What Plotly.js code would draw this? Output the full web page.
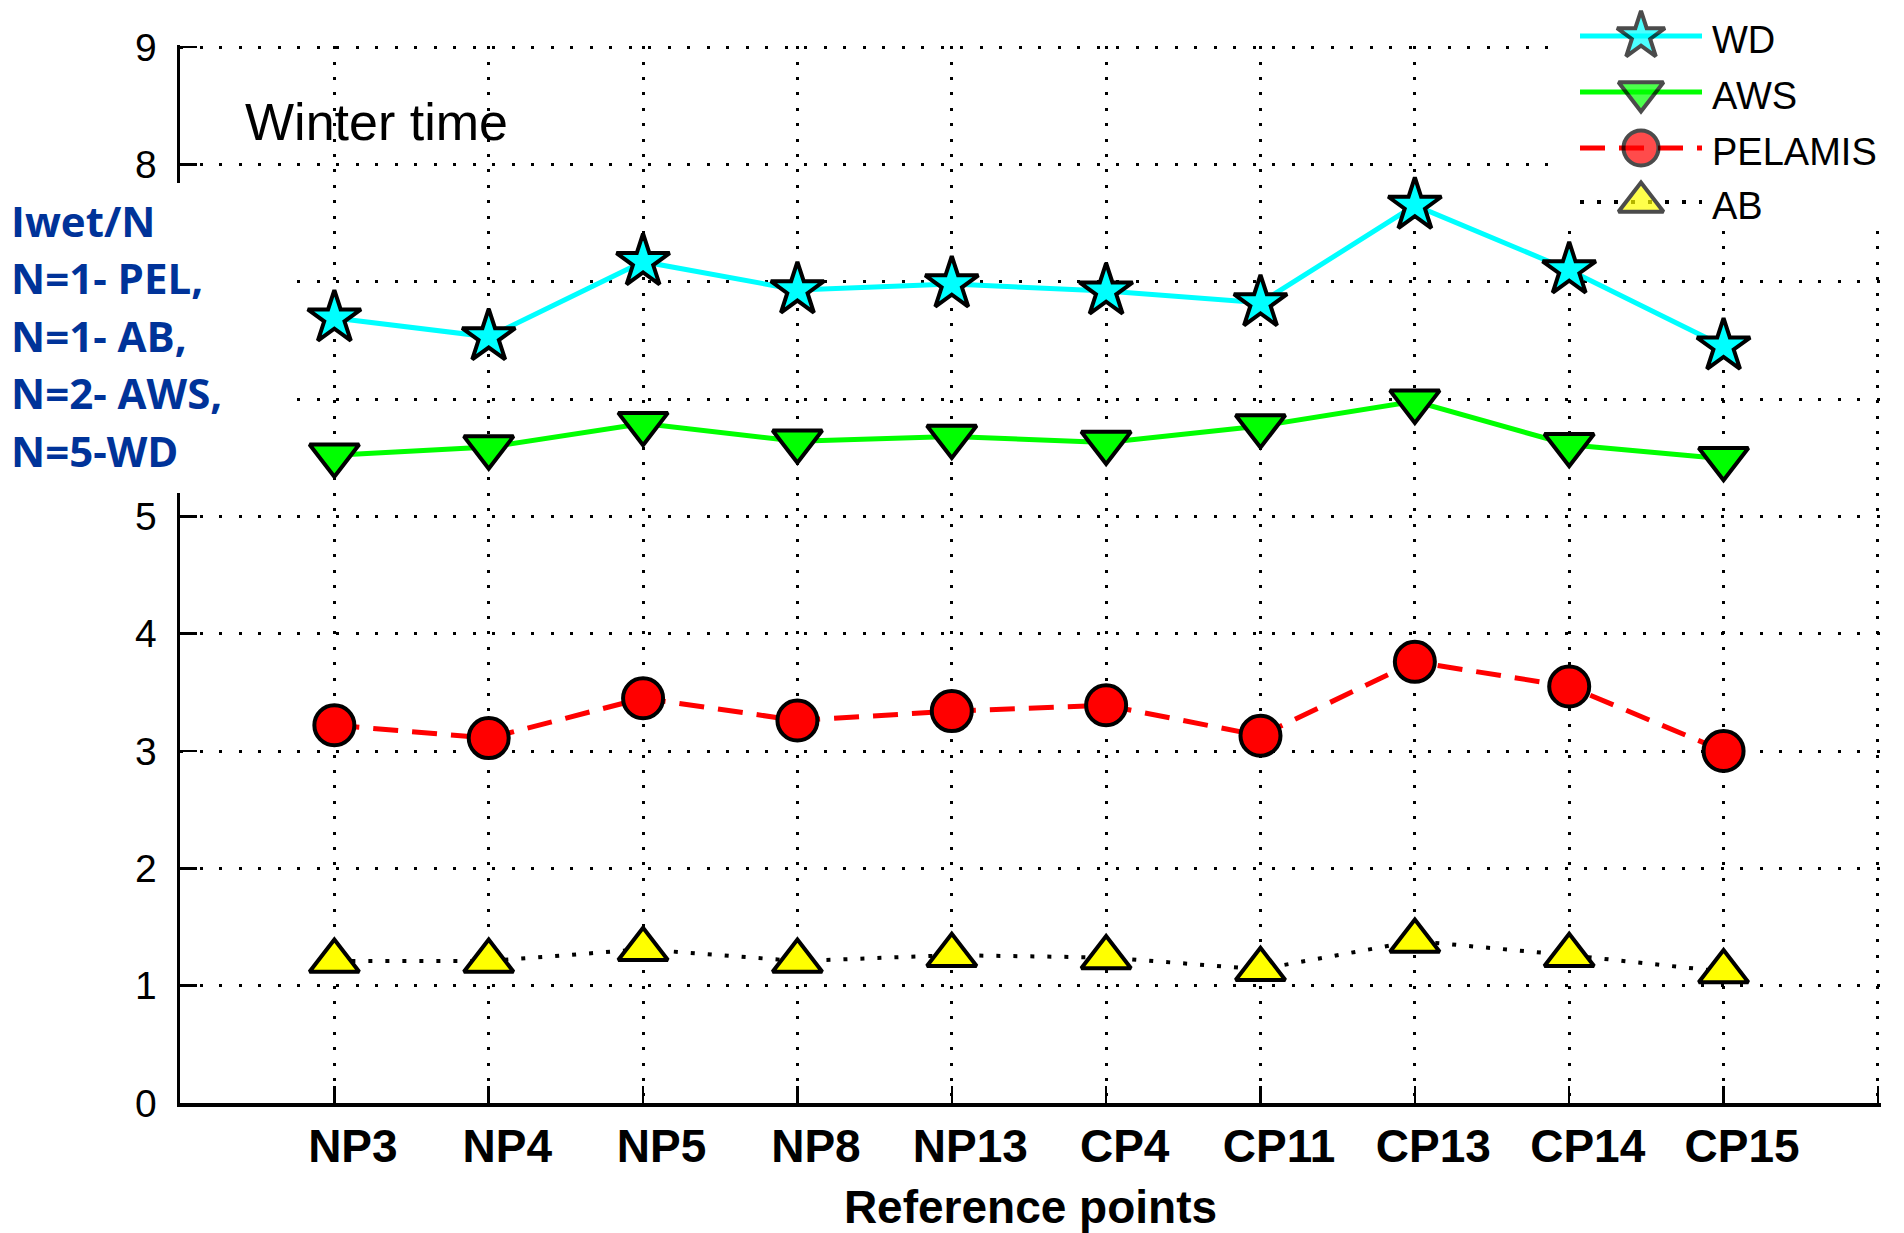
<!DOCTYPE html>
<html>
<head>
<meta charset="utf-8">
<script src="https://cdn.plot.ly/plotly-3.0.1.min.js"></script>
<style>
  html, body { margin: 0; padding: 0; background: #fff; }
  #chart { width: 1904px; height: 1233px; }
</style>
</head>
<body>
<div id="chart"></div>
<script>
// ---- data ----
const categories = ['NP3', 'NP4', 'NP5', 'NP8', 'NP13', 'CP4', 'CP11', 'CP13', 'CP14', 'CP15'];
const xPos = [1, 2, 3, 4, 5, 6, 7, 8, 9, 10];
const wd      = [6.69, 6.53, 7.17, 6.93, 6.98, 6.92, 6.82, 7.65, 7.10, 6.45];
const aws     = [5.52, 5.59, 5.79, 5.64, 5.68, 5.63, 5.77, 5.98, 5.61, 5.49];
const pelamis = [3.22, 3.11, 3.45, 3.26, 3.34, 3.39, 3.13, 3.76, 3.55, 3.00];
const ab      = [1.21, 1.21, 1.31, 1.21, 1.26, 1.24, 1.14, 1.38, 1.26, 1.12];
const seriesNames = ['WD', 'AWS', 'PELAMIS', 'AB'];
const yTickVals = [0, 1, 2, 3, 4, 5, 6, 7, 8, 9];
const yTickText = ['0', '1', '2', '3', '4', '5', '', '', '8', '9'];   // 6 and 7 are hidden behind the note in the original
const xTitle = 'Reference points';
const panelLabel = 'Winter time';
const noteLines = ['Iwet/N', 'N=1- PEL,', 'N=1- AB,', 'N=2- AWS,', 'N=5-WD'];

// ---- geometry ----
const W = 1904, H = 1233;
const mL = 180, mR = 23, mT = 0, mB = 130;
const plotW = W - mL - mR, plotH = H - mT - mB;
const X_MAX = 11.02;                     // grid line at 11 forms the right edge
const Y_TOP = 9;                         // last labelled value
const Y_MAX = Y_TOP * plotH / 1056;      // plot area reaches the top of the page (room for the key)
const unitX = plotW / X_MAX, unitY = plotH / Y_MAX;
const px2paperX = px => (px - mL) / plotW;
const px2paperY = py => (H - mB - py) / plotH;
const px2dataX = px => (px - mL) / unitX;
const px2dataY = py => (H - mB - py) / unitY;

const FONT = 'Liberation Sans, Arial, sans-serif';

// series styles
const styles = [
  { line: '#00FFFF', width: 5, dash: 'solid',     symbol: 'star',          size: 40, fill: '#00FFFF', legSize: 36 },
  { line: '#00FF00', width: 5, dash: 'solid',     symbol: 'triangle-down', size: 43, fill: '#00FF00', legSize: 39 },
  { line: '#FF0000', width: 5, dash: '25px,14px', symbol: 'circle',        size: 40, fill: '#FF0000', legSize: 35 },
  { line: '#000000', width: 4, dash: '4px,13px',  symbol: 'triangle-up',   size: 43, fill: '#FFFF00', legSize: 39 }
];
const seriesData = [wd, aws, pelamis, ab];

const traces = seriesData.map((y, i) => ({
  type: 'scatter', mode: 'lines+markers', name: seriesNames[i], x: xPos, y: y,
  showlegend: false,
  line: { color: styles[i].line, width: styles[i].width, dash: styles[i].dash },
  marker: { symbol: styles[i].symbol, size: styles[i].size, color: styles[i].fill,
            line: { color: '#000', width: 4 } },
  cliponaxis: false
}));

// ---- hand-drawn key (pixel overlay axes) so the keys keep the big markers ----
const legLineX = [1580, 1641, 1702];
const legRowY = [36, 92, 148, 202];
seriesNames.forEach((name, i) => {
  const st = styles[i];
  traces.push({
    type: 'scatter', mode: 'lines+markers', name: name + ' key',
    xaxis: 'x3', yaxis: 'y2', showlegend: false, hoverinfo: 'skip',
    x: legLineX, y: legLineX.map(() => legRowY[i]),
    line: { color: st.line, width: st.width, dash: st.dash },
    marker: { symbol: st.symbol, size: [0, st.legSize, 0], color: st.fill,
              line: { color: '#000', width: [0, 4, 0] } },
    cliponaxis: false
  });
});

const annotations = [
  {
    xref: 'x', yref: 'y', x: 0.41, y: 8.36, xanchor: 'left', yanchor: 'middle',
    text: panelLabel, showarrow: false,
    font: { family: FONT, size: 52, color: '#000' }
  }
];
noteLines.forEach((t, i) => {
  annotations.push({
    xref: 'paper', yref: 'paper',
    x: px2paperX(9), xanchor: 'left',
    y: px2paperY(220 + i * 57.5), yanchor: 'middle',
    text: '<b>' + t + '</b>', showarrow: false,
    font: { family: 'Open Sans, Noto Sans, sans-serif', size: 42, color: '#003399' }
  });
});
seriesNames.forEach((name, i) => {
  annotations.push({
    xref: 'paper', yref: 'paper',
    x: px2paperX(1710), xanchor: 'left',
    y: px2paperY(legRowY[i] + 4), yanchor: 'middle',
    text: name, showarrow: false,
    font: { family: FONT, size: 38, color: '#000' }
  });
});

const layout = {
  width: W, height: H,
  margin: { l: mL, r: mR, t: mT, b: mB, pad: 0 },
  paper_bgcolor: '#fff', plot_bgcolor: '#fff',
  showlegend: false,
  xaxis: {
    range: [0, X_MAX], autorange: false,
    tickmode: 'array',
    tickvals: xPos.concat([11]),
    showticklabels: false,
    ticks: 'inside', ticklen: 17, tickwidth: 2.5, tickcolor: '#000',
    showline: true, linecolor: '#000', linewidth: 3.5, mirror: false,
    showgrid: true, gridcolor: '#000', gridwidth: 3, griddash: '3px,12.4px',
    zeroline: false,
    title: { text: '<b>' + xTitle + '</b>', standoff: 92,
      font: { family: FONT, size: 46, color: '#000' } }
  },
  // pixel-space overlay axis: carries the category labels (offset a little to the right, as in the original) and the key
  xaxis3: {
    overlaying: 'x', anchor: 'y2', side: 'bottom',
    range: [mL, W - mR], autorange: false,
    tickmode: 'array', tickvals: xPos.map(v => mL + (v + 0.12) * unitX), ticktext: categories,
    ticks: '', showgrid: false, showline: false, zeroline: false,
    ticklabelstandoff: 12,
    tickfont: { family: FONT, size: 46, color: '#000', weight: 'bold' }
  },
  yaxis: {
    range: [0, Y_MAX], autorange: false,
    tickmode: 'array', tickvals: yTickVals, ticktext: yTickText,
    ticks: 'inside', ticklen: 17, tickwidth: 2.5, tickcolor: '#000',
    showline: true, linecolor: '#000', linewidth: 3.5, mirror: false,
    showgrid: true, gridcolor: '#000', gridwidth: 3, griddash: '3px,16.5px',
    zeroline: false, ticklabelstandoff: 12,
    tickfont: { family: FONT, size: 39, color: '#000' }
  },
  yaxis2: { overlaying: 'y', range: [H - mB, mT], autorange: false, visible: false, showgrid: false, zeroline: false },
  shapes: [
    { // white patch behind the note text
      type: 'rect', xref: 'paper', yref: 'paper', layer: 'above',
      x0: px2paperX(0), x1: px2paperX(281),
      y0: px2paperY(493), y1: px2paperY(183),
      fillcolor: '#fff', line: { width: 0 }
    },
    { // nothing above the top grid line (9)
      type: 'rect', xref: 'paper', yref: 'paper', layer: 'above',
      x0: px2paperX(171), x1: px2paperX(1556),
      y0: px2paperY(45), y1: px2paperY(0),
      fillcolor: '#fff', line: { width: 0 }
    },
    { // white patch behind the key (hides grid there, keeps the key traces)
      type: 'rect', xref: 'x', yref: 'y', layer: 'between',
      x0: px2dataX(1556), x1: X_MAX,
      y0: px2dataY(228), y1: Y_MAX,
      fillcolor: '#fff', line: { width: 0 }
    }
  ],
  annotations: annotations
};

Plotly.newPlot('chart', traces, layout, { displayModeBar: false, staticPlot: true });
</script>
</body>
</html>
